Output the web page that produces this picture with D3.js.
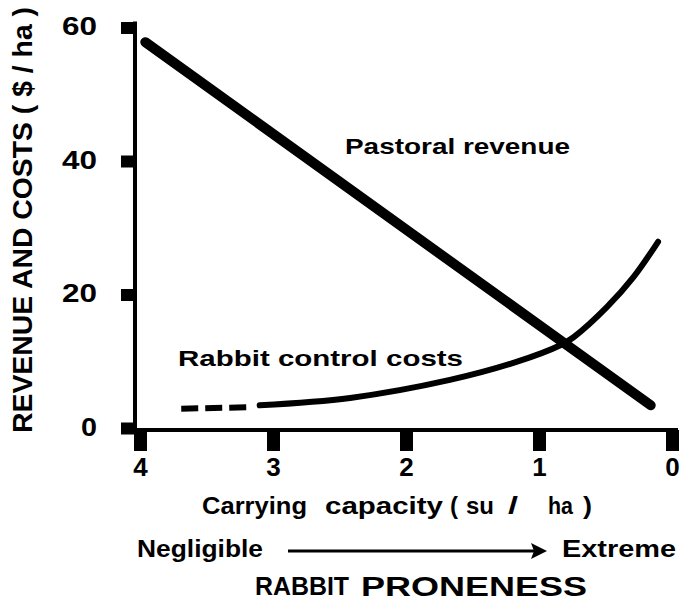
<!DOCTYPE html>
<html>
<head>
<meta charset="utf-8">
<script src="https://cdn.jsdelivr.net/npm/d3@7"></script>
<style>
  body { margin: 0; background: #fff; }
  svg { display: block; font-family: "Liberation Sans", Arial, Helvetica, sans-serif; font-weight: bold; }
</style>
</head>
<body>
<svg id="chart"></svg>
<script>
// Valores
const capacityTicks = [4, 3, 2, 1, 0];
const costTicks = [0, 20, 40, 60];

const revenueCapacity = [3.96, 0.16];
const revenueValues = [57.8, 3.4];

const costDashCapacity = [3.69, 3.2];
const costDashValues = [2.9, 3.1];

const costCapacity = [3.10, 2.42, 1.67, 1.17, 0.84, 0.74, 0.49, 0.29, 0.105];
const costValues = [3.4, 4.5, 7.2, 9.9, 12.4, 13.6, 18.1, 22.6, 27.9];

const width = 681;
const height = 602;

const svg = d3.select("#chart")
  .attr("width", width)
  .attr("height", height);

svg.append("rect")
  .attr("width", width)
  .attr("height", height)
  .attr("fill", "#fff");

// escalas: capacidade decresce para a direita
const x = d3.scaleLinear()
  .domain([4, 0])
  .range([140, 672]);

const y = d3.scaleLinear()
  .domain([0, 60])
  .range([428, 27.5]);

// eixo Y
const yAxis = svg.append("g")
  .attr("transform", "translate(135,0)")
  .call(d3.axisLeft(y).tickValues(costTicks).tickSize(14).tickSizeOuter(0));

yAxis.select(".domain")
  .attr("stroke", "#000")
  .attr("stroke-width", 4)
  .attr("d", `M0,${y(60) - 6}V${y(0) + 6}`);

yAxis.selectAll(".tick line")
  .attr("stroke", "#000")
  .attr("stroke-width", 12);

yAxis.selectAll(".tick text")
  .attr("x", -38)
  .attr("dy", null)
  .attr("y", 7)
  .attr("fill", "#000")
  .style("font-size", "26px")
  .style("font-family", "Liberation Sans, Arial, sans-serif")
  .style("font-weight", "bold")
  .attr("textLength", d => d === 0 ? 16 : 35)
  .attr("lengthAdjust", "spacingAndGlyphs");

// eixo X
const xAxis = svg.append("g")
  .attr("transform", "translate(0,430)")
  .call(d3.axisBottom(x).tickValues(capacityTicks).tickSize(21).tickSizeOuter(0).tickFormat(d3.format("d")));

xAxis.select(".domain")
  .attr("stroke", "#000")
  .attr("stroke-width", 4)
  .attr("d", `M${x(4) - 6},0H${x(0) + 6}`);

xAxis.selectAll(".tick line")
  .attr("stroke", "#000")
  .attr("stroke-width", 13);

xAxis.selectAll(".tick text")
  .attr("dy", null)
  .attr("y", 46)
  .attr("fill", "#000")
  .style("font-size", "26px")
  .style("font-family", "Liberation Sans, Arial, sans-serif")
  .style("font-weight", "bold");

// linhas
const revenueLine = d3.line()
  .x(d => x(d[0]))
  .y(d => y(d[1]));

svg.append("path")
  .datum(d3.zip(revenueCapacity, revenueValues))
  .attr("fill", "none")
  .attr("stroke", "#000")
  .attr("stroke-width", 10)
  .attr("stroke-linecap", "round")
  .attr("d", revenueLine);

const costLine = d3.line()
  .x(d => x(d[0]))
  .y(d => y(d[1]))
  .curve(d3.curveCatmullRom);

svg.append("path")
  .datum(d3.zip(costCapacity, costValues))
  .attr("fill", "none")
  .attr("stroke", "#000")
  .attr("stroke-width", 6)
  .attr("stroke-linecap", "round")
  .attr("d", costLine);

// trecho tracejado (extrapolado)
svg.append("path")
  .datum(d3.zip(costDashCapacity, costDashValues))
  .attr("fill", "none")
  .attr("stroke", "#000")
  .attr("stroke-width", 6)
  .attr("stroke-dasharray", "17 7")
  .attr("d", revenueLine);

// textos
function label(txt, px, py, size, len) {
  return svg.append("text")
    .attr("x", px)
    .attr("y", py)
    .style("font-size", size + "px")
    .attr("textLength", len)
    .attr("lengthAdjust", "spacingAndGlyphs")
    .text(txt);
}

label("Pastoral revenue", 345, 154, 22, 225);
label("Rabbit control costs", 178, 366, 22, 285);

// título do eixo X, palavra a palavra
const xTitle = [
  ["Carrying", 202, 105], ["capacity", 325, 118], ["(", 450, 8],
  ["su", 466, 28], ["/", 508, 10], ["ha", 548, 25], [")", 583, 9]
];
xTitle.forEach(d => label(d[0], d[1], 514, 24, d[2]));

label("Negligible", 137, 557, 23, 126);
label("Extreme", 562, 557, 23, 114);

svg.append("line")
  .attr("x1", 288)
  .attr("x2", 536)
  .attr("y1", 551)
  .attr("y2", 551)
  .attr("stroke", "#000")
  .attr("stroke-width", 3);

svg.append("path")
  .attr("d", "M547,551L531,543L534,551L531,559Z")
  .attr("fill", "#000");

label("RABBIT", 255, 595, 25, 94);
label("PRONENESS", 361, 596, 27, 226);

// título do eixo Y
svg.append("text")
  .attr("transform", "translate(32,220) rotate(-90)")
  .attr("text-anchor", "middle")
  .style("font-size", "28px")
  .attr("textLength", 426)
  .attr("lengthAdjust", "spacingAndGlyphs")
  .text("REVENUE AND COSTS ( $ / ha )");
</script>
</body>
</html>
